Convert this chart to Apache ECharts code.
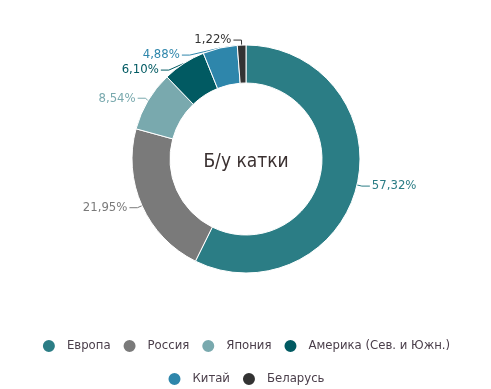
<!DOCTYPE html>
<html><head><meta charset="utf-8">
<script src="https://cdn.jsdelivr.net/npm/echarts@6/dist/echarts.min.js"></script>
<style>html,body{margin:0;padding:0;background:#fff}#c{width:491px;height:389px}</style>
</head><body><div id="c"></div>
<script>
const categories = ['Европа','Россия','Япония','Америка (Сев. и Южн.)','Китай','Беларусь'];
const values = [57.32, 21.95, 8.54, 6.10, 4.88, 1.22];
const colors = ['#2b7d85','#7a7a7a','#79a9ae','#015a62','#2e86ab','#333333'];
const centerTitle = 'Б/у катки';
const FONT = '"DejaVu Sans Condensed", "Liberation Sans Narrow", "Noto Sans", sans-serif';

const legendText = { fontFamily: FONT, fontSize: 13, color: '#4a3e4a', padding: [0,0,0,6] };
const chart = echarts.init(document.getElementById('c'));
chart.setOption({
  animation: false,
  color: colors,
  title: {
    text: centerTitle, left: 246, top: 162, textAlign: 'center', textVerticalAlign: 'middle', padding: 0,
    textStyle: { fontFamily: FONT, fontSize: 19, fontWeight: 'normal', color: '#3a3030' }
  },
  legend: [{
    top: 333, left: 'center', icon: 'circle', itemWidth: 14, itemHeight: 14, itemGap: 11,
    textStyle: legendText, data: categories.slice(0, 4)
  }, {
    top: 366, left: 'center', icon: 'circle', itemWidth: 14, itemHeight: 14, itemGap: 11,
    textStyle: legendText, data: categories.slice(4)
  }],
  series: [{
    type: 'pie', center: [246, 159], radius: [76, 114], startAngle: 90, clockwise: true,
    itemStyle: { borderColor: '#fff', borderWidth: 1 },
    label: {
      formatter: p => p.value.toFixed(2).replace('.', ',') + '%',
      fontFamily: FONT, fontSize: 13, distanceToLabelLine: 2
    },
    labelLine: { length: 5, length2: 8, lineStyle: { width: 1 } },
    data: categories.map((n, i) => ({
      name: n, value: values[i],
      label: { color: colors[i] },
      labelLine: { lineStyle: { color: colors[i] } }
    }))
  }]
});
</script></body></html>
